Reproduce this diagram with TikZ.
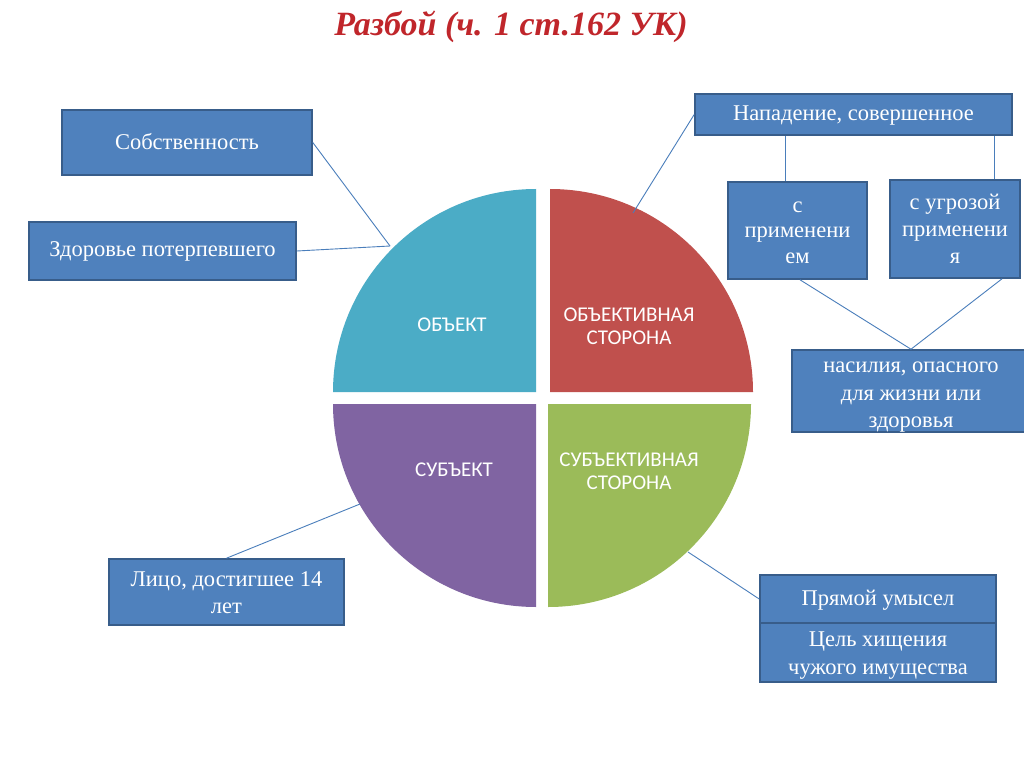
\documentclass[tikz,border=0pt]{standalone}
\usepackage{fontspec}
\setmainfont{Liberation Serif}
\newfontfamily\pief{Carlito}
\definecolor{boxfill}{HTML}{4F81BD}
\definecolor{boxline}{HTML}{385D8A}
\definecolor{conn}{HTML}{4A7EBB}
\definecolor{qcyan}{HTML}{4BACC6}
\definecolor{qred}{HTML}{C0504D}
\definecolor{qpurple}{HTML}{8064A2}
\definecolor{qgreen}{HTML}{9BBB59}
\definecolor{titlered}{HTML}{C0262B}
% text block lowered by #1 pt below the box centre
\newcommand\bt[2]{\raisebox{\dimexpr-5.6pt-#1pt\relax}[0pt][0pt]{\begin{tabular}{@{}c@{}}#2\end{tabular}}}
\begin{document}
\begin{tikzpicture}[x=1pt,y=-1pt,
  box/.style={draw=boxline, fill=boxfill, line width=1.6pt, text=white, inner sep=0pt,
    font=\fontsize{22.5}{27.5}\selectfont},
  pietext/.style={text=white, align=center, font=\pief\fontsize{21}{23}\selectfont},
  link/.style={draw=conn, line width=0.9pt}]
\fill[white] (0,0) rectangle (1024,767);
\useasboundingbox (0,0) rectangle (1024,767);

% title
\node[font=\fontsize{34}{38}\selectfont\bfseries\itshape, text=titlered] (title) at (511,27) {Разбой (ч. 1 ст.162 УК)};

% pie
\fill[qcyan] (536,392) -- ++(-203,0) arc[start angle=180,end angle=270,radius=203] -- cycle;
\fill[qred] (550,392) -- ++(0,-203) arc[start angle=270,end angle=360,radius=203] -- cycle;
\fill[qpurple] (536,404) -- ++(-203,0) arc[start angle=180,end angle=90,radius=203] -- cycle;
\fill[qgreen] (548,404) -- ++(203,0) arc[start angle=0,end angle=90,radius=203] -- cycle;

\node[pietext] (obj) at (452,325) {ОБЪЕКТ};
\node[pietext] (objs) at (629,326) {ОБЪЕКТИВНАЯ\\СТОРОНА};
\node[pietext] (sub) at (454,470) {СУБЪЕКТ};
\node[pietext] (subs) at (629,471) {СУБЪЕКТИВНАЯ\\СТОРОНА};

\coordinate (pobj) at (390,246);
\coordinate (pred) at (633,213);
\coordinate (psub) at (360,504);
\coordinate (pgrn) at (688,552);

% boxes
\node[box, minimum width=250, minimum height=65] (sob) at (187,142.5) {\bt{1}{Собственность}};
\node[box, minimum width=267, minimum height=58] (zdr) at (162.5,251) {\bt{0}{Здоровье потерпевшего}};
\node[box, minimum width=317, minimum height=41] (nap) at (853.5,114.5) {\bt{0}{Нападение, совершенное}};
\node[box, minimum width=139, minimum height=97, font=\fontsize{22.5}{25.5}\selectfont] (spr) at (797.5,230.5) {\bt{1.5}{с\\применени\\ем}};
\node[box, minimum width=130, minimum height=98, font=\fontsize{22.5}{27}\selectfont] (sug) at (955,229) {\bt{1.5}{с угрозой\\применени\\я}};
\node[box, minimum width=238, minimum height=82] (nas) at (911,391) {\bt{3.5}{насилия, опасного\\для жизни или\\здоровья}};
\node[box, minimum width=235, minimum height=66] (lico) at (226.5,592) {\bt{2}{Лицо, достигшее 14\\лет}};
\node[box, minimum width=236, minimum height=48] (pr) at (878,599) {\bt{1}{Прямой умысел}};
\node[box, minimum width=236, minimum height=59] (cel) at (878,652.5) {\bt{2}{Цель хищения\\чужого имущества}};

% connectors
\draw[link] (sob.east) -- (pobj);
\draw[link] (zdr.east) -- (pobj);
\draw[link] (nap.west) -- (pred);
\draw[link] ([xshift=-12.5]spr.north) -- ([xshift=-12.5]spr.north |- nap.south);
\draw[link] ([xshift=39]sug.north) -- ([xshift=39]sug.north |- nap.south);
\draw[link] ([xshift=2.5]spr.south) -- (nas.north);
\draw[link] ([xshift=47]sug.south) -- (nas.north);
\draw[link] (lico.north) -- (psub);
\draw[link] (pgrn) -- (pr.west);
\end{tikzpicture}
\end{document}
